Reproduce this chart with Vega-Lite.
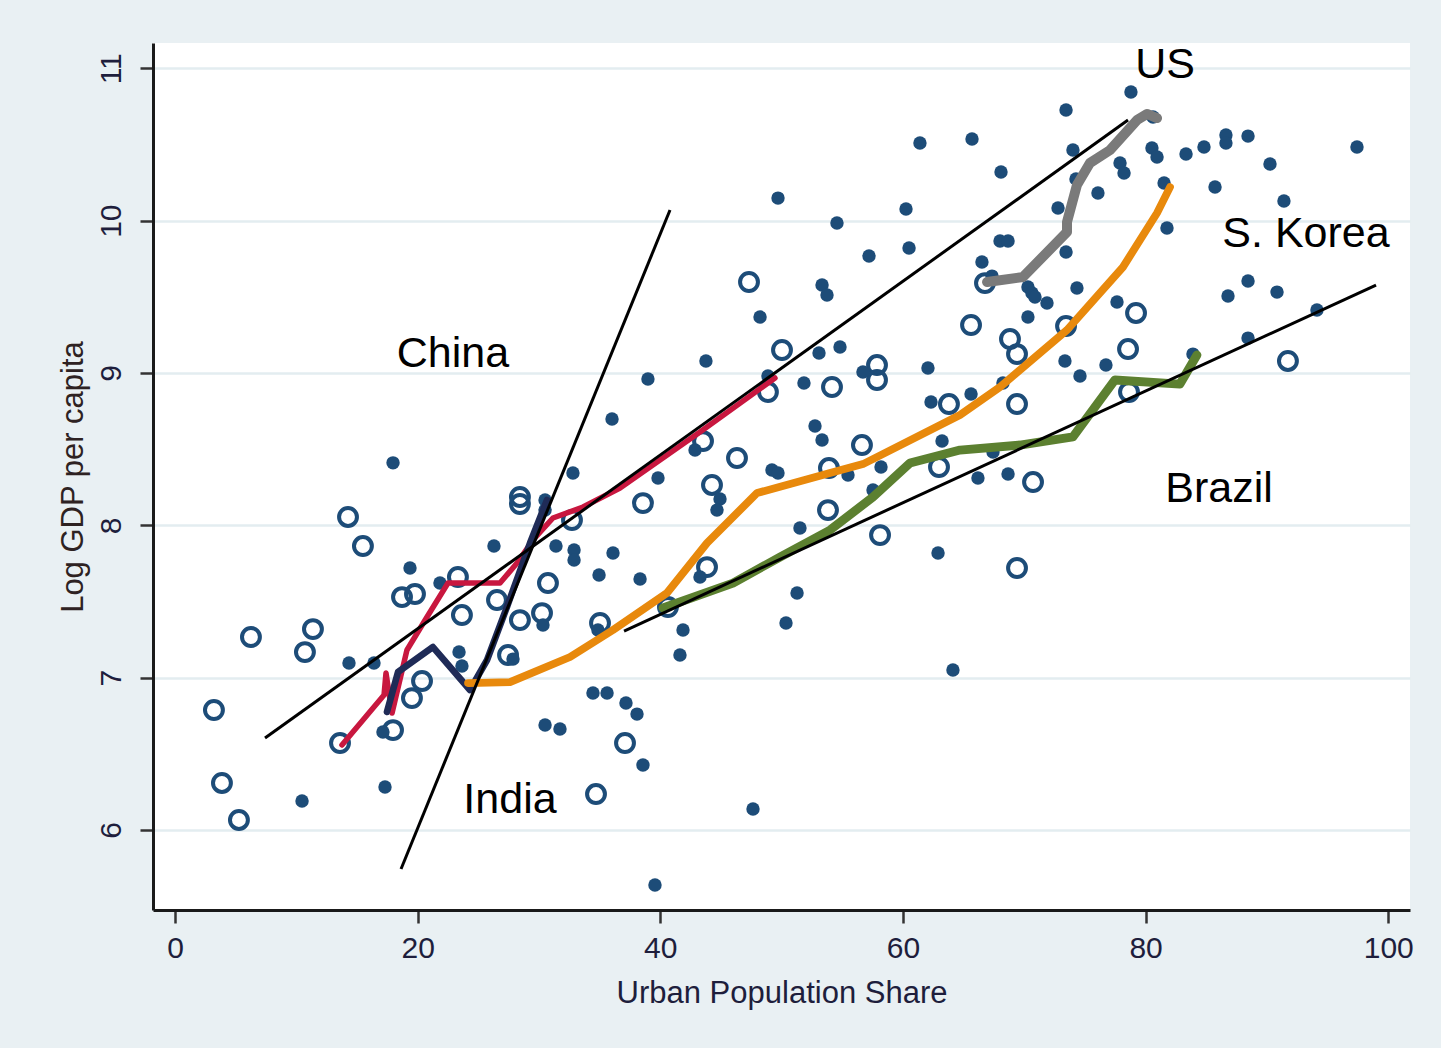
{
  "$schema": "https://vega.github.io/schema/vega-lite/v6.json",
  "width": 1257,
  "height": 867,
  "autosize": {"type": "none"},
  "padding": {"left": 153, "top": 43, "right": 31, "bottom": 138},
  "background": "#e9f0f3",
  "config": {"view": {"stroke": null, "fill": "#ffffff"}, "font": "Liberation Sans"},
  "datasets": {
    "filled": [
      {"x":17.97,"y":8.41},{"x":14.34,"y":7.096},{"x":16.40,"y":7.096},{"x":10.47,"y":6.19},{"x":17.31,"y":6.282},{"x":17.14,"y":6.643},{"x":19.37,"y":7.72},{"x":21.84,"y":7.621},{"x":23.41,"y":7.168},{"x":23.65,"y":7.077},{"x":26.29,"y":7.864},{"x":27.86,"y":7.122},{"x":30.50,"y":8.166},{"x":30.50,"y":8.10},{"x":32.80,"y":8.343},{"x":31.40,"y":7.864},{"x":32.89,"y":7.838},{"x":32.89,"y":7.772},{"x":36.10,"y":7.818},{"x":34.95,"y":7.674},{"x":30.33,"y":7.346},{"x":34.86,"y":7.313},{"x":34.45,"y":6.899},{"x":35.61,"y":6.899},{"x":37.17,"y":6.834},{"x":38.08,"y":6.761},{"x":30.50,"y":6.689},{"x":31.73,"y":6.663},{"x":38.57,"y":6.427},{"x":47.64,"y":6.138},{"x":39.56,"y":5.639},{"x":38.33,"y":7.648},{"x":41.87,"y":7.313},{"x":41.62,"y":7.149},{"x":43.27,"y":7.661},{"x":39.81,"y":8.311},{"x":42.86,"y":8.494},{"x":44.92,"y":8.173},{"x":44.67,"y":8.10},{"x":36.02,"y":8.698},{"x":38.98,"y":8.96},{"x":43.76,"y":9.079},{"x":48.22,"y":9.367},{"x":49.70,"y":10.148},{"x":53.33,"y":9.577},{"x":53.74,"y":9.512},{"x":54.81,"y":9.17},{"x":53.08,"y":9.131},{"x":48.87,"y":8.98},{"x":51.84,"y":8.934},{"x":56.70,"y":9.006},{"x":62.06,"y":9.033},{"x":62.31,"y":8.809},{"x":65.61,"y":8.862},{"x":68.24,"y":8.934},{"x":54.56,"y":9.984},{"x":57.20,"y":9.768},{"x":60.25,"y":10.076},{"x":60.50,"y":9.82},{"x":61.40,"y":10.51},{"x":52.75,"y":8.652},{"x":53.33,"y":8.56},{"x":49.20,"y":8.363},{"x":49.70,"y":8.343},{"x":55.47,"y":8.33},{"x":58.19,"y":8.383},{"x":57.53,"y":8.232},{"x":51.51,"y":7.982},{"x":51.27,"y":7.556},{"x":50.36,"y":7.359},{"x":63.22,"y":8.553},{"x":62.89,"y":7.818},{"x":64.12,"y":7.05},{"x":67.42,"y":8.481},{"x":66.18,"y":8.311},{"x":68.66,"y":8.337},{"x":73.35,"y":9.079},{"x":74.59,"y":8.98},{"x":76.73,"y":9.052},{"x":83.90,"y":9.124},{"x":70.30,"y":9.367},{"x":77.64,"y":9.466},{"x":74.34,"y":9.558},{"x":70.30,"y":9.564},{"x":70.63,"y":9.525},{"x":70.88,"y":9.499},{"x":71.87,"y":9.459},{"x":86.79,"y":9.505},{"x":88.44,"y":9.604},{"x":90.83,"y":9.531},{"x":94.12,"y":9.413},{"x":88.44,"y":9.229},{"x":78.79,"y":10.844},{"x":73.44,"y":10.726},{"x":65.69,"y":10.536},{"x":74.01,"y":10.464},{"x":80.61,"y":10.68},{"x":80.52,"y":10.477},{"x":80.94,"y":10.418},{"x":83.33,"y":10.437},{"x":84.81,"y":10.483},{"x":86.62,"y":10.562},{"x":86.62,"y":10.51},{"x":88.44,"y":10.555},{"x":97.42,"y":10.483},{"x":90.25,"y":10.372},{"x":68.08,"y":10.319},{"x":77.89,"y":10.378},{"x":78.22,"y":10.313},{"x":81.52,"y":10.247},{"x":74.26,"y":10.273},{"x":76.07,"y":10.181},{"x":85.72,"y":10.221},{"x":91.40,"y":10.129},{"x":72.78,"y":10.083},{"x":81.76,"y":9.952},{"x":68.0,"y":9.866},{"x":68.66,"y":9.866},{"x":73.44,"y":9.794},{"x":66.51,"y":9.728},{"x":67.34,"y":9.636}
    ],
    "hollow": [
      {"x":3.21,"y":6.788},{"x":3.87,"y":6.309},{"x":5.27,"y":6.066},{"x":6.26,"y":7.267},{"x":10.71,"y":7.168},{"x":11.37,"y":7.319},{"x":14.26,"y":8.055},{"x":15.49,"y":7.864},{"x":13.60,"y":6.571},{"x":17.97,"y":6.656},{"x":19.53,"y":6.866},{"x":20.36,"y":6.978},{"x":18.71,"y":7.529},{"x":19.78,"y":7.549},{"x":23.32,"y":7.661},{"x":23.65,"y":7.411},{"x":26.54,"y":7.51},{"x":28.43,"y":8.186},{"x":28.43,"y":8.14},{"x":32.72,"y":8.035},{"x":30.74,"y":7.621},{"x":28.43,"y":7.378},{"x":30.25,"y":7.424},{"x":35.03,"y":7.359},{"x":27.45,"y":7.149},{"x":37.09,"y":6.571},{"x":34.70,"y":6.236},{"x":40.63,"y":7.464},{"x":43.85,"y":7.726},{"x":38.57,"y":8.146},{"x":44.26,"y":8.265},{"x":43.52,"y":8.553},{"x":46.32,"y":8.442},{"x":47.31,"y":9.597},{"x":50.03,"y":9.151},{"x":48.87,"y":8.875},{"x":54.15,"y":8.908},{"x":57.86,"y":9.052},{"x":57.86,"y":8.954},{"x":56.62,"y":8.527},{"x":53.90,"y":8.376},{"x":53.82,"y":8.10},{"x":58.11,"y":7.936},{"x":62.97,"y":8.383},{"x":63.79,"y":8.796},{"x":65.61,"y":9.315},{"x":68.82,"y":9.223},{"x":69.40,"y":9.124},{"x":69.40,"y":8.796},{"x":70.72,"y":8.284},{"x":69.40,"y":7.72},{"x":66.76,"y":9.59},{"x":73.44,"y":9.308},{"x":79.21,"y":9.394},{"x":78.55,"y":9.157},{"x":78.63,"y":8.875},{"x":91.73,"y":9.079}
    ],
    "paths": [
      {"c":"China","i":0,"x":13.76,"y":6.558},{"c":"China","i":1,"x":17.23,"y":6.886},{"c":"China","i":2,"x":17.39,"y":7.031},{"c":"China","i":3,"x":17.89,"y":6.768},{"c":"China","i":4,"x":19.12,"y":7.182},{"c":"China","i":5,"x":20.77,"y":7.398},{"c":"China","i":6,"x":22.50,"y":7.621},{"c":"China","i":7,"x":26.79,"y":7.621},{"c":"China","i":8,"x":28.19,"y":7.753},{"c":"China","i":9,"x":29.51,"y":7.904},{"c":"China","i":10,"x":31.15,"y":8.048},{"c":"China","i":11,"x":33.63,"y":8.12},{"c":"China","i":12,"x":36.68,"y":8.245},{"c":"China","i":13,"x":43.27,"y":8.612},{"c":"China","i":14,"x":49.45,"y":8.967},
      {"c":"India","i":0,"x":17.47,"y":6.775},{"c":"India","i":1,"x":18.38,"y":7.037},{"c":"India","i":2,"x":21.26,"y":7.201},{"c":"India","i":3,"x":24.31,"y":6.919},{"c":"India","i":4,"x":25.72,"y":7.116},{"c":"India","i":5,"x":27.36,"y":7.464},{"c":"India","i":6,"x":29.26,"y":7.884},{"c":"India","i":7,"x":30.66,"y":8.166},
      {"c":"S. Korea","i":0,"x":24.15,"y":6.965},{"c":"S. Korea","i":1,"x":27.61,"y":6.971},{"c":"S. Korea","i":2,"x":32.56,"y":7.136},{"c":"S. Korea","i":3,"x":36.10,"y":7.313},{"c":"S. Korea","i":4,"x":40.55,"y":7.556},{"c":"S. Korea","i":5,"x":43.85,"y":7.884},{"c":"S. Korea","i":6,"x":47.97,"y":8.212},{"c":"S. Korea","i":7,"x":53.98,"y":8.343},{"c":"S. Korea","i":8,"x":56.70,"y":8.402},{"c":"S. Korea","i":9,"x":64.70,"y":8.724},{"c":"S. Korea","i":10,"x":68.0,"y":8.908},{"c":"S. Korea","i":11,"x":73.52,"y":9.282},{"c":"S. Korea","i":12,"x":78.13,"y":9.695},{"c":"S. Korea","i":13,"x":80.94,"y":10.05},{"c":"S. Korea","i":14,"x":82.01,"y":10.22},
      {"c":"Brazil","i":0,"x":40.22,"y":7.457},{"c":"Brazil","i":1,"x":45.99,"y":7.621},{"c":"Brazil","i":2,"x":49.86,"y":7.792},{"c":"Brazil","i":3,"x":53.99,"y":7.969},{"c":"Brazil","i":4,"x":57.53,"y":8.186},{"c":"Brazil","i":5,"x":60.58,"y":8.409},{"c":"Brazil","i":6,"x":64.70,"y":8.494},{"c":"Brazil","i":7,"x":69.64,"y":8.527},{"c":"Brazil","i":8,"x":74.01,"y":8.58},{"c":"Brazil","i":9,"x":77.47,"y":8.954},{"c":"Brazil","i":10,"x":82.83,"y":8.927},{"c":"Brazil","i":11,"x":84.23,"y":9.118},
      {"c":"US","i":0,"x":66.93,"y":9.597},{"c":"US","i":1,"x":69.89,"y":9.63},{"c":"US","i":2,"x":73.52,"y":9.925},{"c":"US","i":3,"x":73.52,"y":9.991},{"c":"US","i":4,"x":74.34,"y":10.234},{"c":"US","i":5,"x":75.41,"y":10.378},{"c":"US","i":6,"x":77.06,"y":10.463},{"c":"US","i":7,"x":79.29,"y":10.66},{"c":"US","i":8,"x":80.11,"y":10.70},{"c":"US","i":9,"x":80.94,"y":10.673}
    ],
    "fits": [
      {"f":"upper","x":7.42,"y":6.604},{"f":"upper","x":78.55,"y":10.66},
      {"f":"steep","x":18.63,"y":5.744},{"f":"steep","x":40.80,"y":10.07},
      {"f":"lower","x":37.01,"y":7.306},{"f":"lower","x":98.99,"y":9.577}
    ],
    "labels": [
      {"label":"US","x":81.60,"y":11.021},
      {"label":"S. Korea","x":93.22,"y":9.912},
      {"label":"China","x":22.91,"y":9.124},
      {"label":"Brazil","x":86.05,"y":8.238},
      {"label":"India","x":27.61,"y":6.197}
    ]
  },
  "encoding": {
    "x": {
      "field": "x", "type": "quantitative",
      "scale": {"domain": [-1.813, 101.79], "nice": false, "zero": false},
      "axis": {
        "title": "Urban Population Share", "values": [0, 20, 40, 60, 80, 100], "grid": false,
        "domainColor": "#1a1a1a", "domainWidth": 3, "tickColor": "#333333", "tickWidth": 2.5, "tickSize": 13,
        "labelFont": "Liberation Sans", "labelFontSize": 30, "labelColor": "#1e1e3c", "labelPadding": 10,
        "titleFont": "Liberation Sans", "titleFontSize": 31, "titleFontWeight": "normal", "titleColor": "#1e1e3c", "titlePadding": 15
      }
    },
    "y": {
      "field": "y", "type": "quantitative",
      "scale": {"domain": [5.475, 11.166], "nice": false, "zero": false},
      "axis": {
        "title": "Log GDP per capita", "values": [6, 7, 8, 9, 10, 11], "grid": true, "gridColor": "#e3edf0", "gridWidth": 2.5,
        "domainColor": "#1a1a1a", "domainWidth": 3, "tickColor": "#333333", "tickWidth": 2.5, "tickSize": 13,
        "labelAngle": -90, "labelAlign": "center", "labelBaseline": "bottom",
        "labelFont": "Liberation Sans", "labelFontSize": 30, "labelColor": "#1e1e3c", "labelPadding": 14,
        "titleFont": "Liberation Sans", "titleFontSize": 31, "titleFontWeight": "normal", "titleColor": "#2e2222", "titlePadding": 7
      }
    }
  },
  "layer": [
    {
      "data": {"name": "hollow"},
      "mark": {"type": "point", "shape": "circle", "filled": false, "size": 320, "strokeWidth": 4, "color": "#1d4c78", "opacity": 1}
    },
    {
      "data": {"name": "filled"},
      "mark": {"type": "circle", "size": 180, "color": "#1d4c78", "opacity": 1}
    },
    {
      "data": {"name": "paths"},
      "mark": {"type": "line", "strokeJoin": "round", "strokeCap": "round"},
      "encoding": {
        "color": {"field": "c", "type": "nominal", "legend": null,
          "scale": {"domain": ["China", "India", "S. Korea", "Brazil", "US"], "range": ["#c8173f", "#1f2b57", "#e8890c", "#5c8030", "#7a7a7a"]}},
        "strokeWidth": {"field": "c", "type": "nominal", "legend": null,
          "scale": {"domain": ["China", "India", "S. Korea", "Brazil", "US"], "range": [5.5, 10, 5.5, 6.5, 6]}},
        "order": {"field": "i", "type": "quantitative"}
      }
    },
    {
      "data": {"name": "fits"},
      "mark": {"type": "line", "color": "#000000", "strokeWidth": 3},
      "encoding": {"detail": {"field": "f", "type": "nominal"}}
    },
    {
      "data": {"name": "labels"},
      "mark": {"type": "text", "font": "Liberation Sans", "fontSize": 43, "color": "#000000", "align": "center", "baseline": "middle"},
      "encoding": {"text": {"field": "label", "type": "nominal"}}
    }
  ]
}
